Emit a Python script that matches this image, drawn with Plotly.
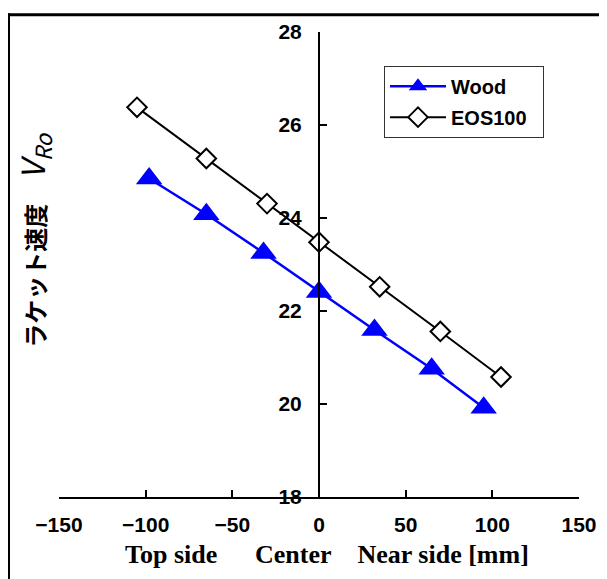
import plotly.graph_objects as go

# Data
wood_x = [-98, -65, -32, 0, 32, 65, 95]
wood_y = [24.85, 24.08, 23.25, 22.41, 21.59, 20.76, 19.92]
eos_x = [-105, -65, -30, 0, 35, 70, 105]
eos_y = [26.38, 25.28, 24.31, 23.48, 22.52, 21.56, 20.58]
x_ticks = [-150, -100, -50, 0, 50, 100, 150]
y_ticks = [18, 20, 22, 24, 26, 28]

# The page places the figure 8px in from the top-left corner of the window
OFF = 8
W, H = 607, 579
# plot area on screen: x 59..579, y 27..497
L = 59 - OFF
T = 27 - OFF
pw, ph = 520, 470
R = W - L - pw
B = H - T - ph

def px_x(p):
    return (p - OFF - L) / pw

def px_y(p):
    return (H - B - (p - OFF)) / ph

sans = "Liberation Sans, Arial, sans-serif"
serif = "Liberation Serif, Times New Roman, serif"
cjk = "Noto Sans CJK JP, sans-serif"

fig = go.Figure()
fig.add_trace(go.Scatter(
    x=wood_x, y=wood_y, name="<b>Wood</b>", mode="lines+markers",
    line=dict(color="#0000FF", width=2.5),
    marker=dict(symbol="triangle-up", size=23, color="#0000FF"),
    legendgroup="a",
))
fig.add_trace(go.Scatter(
    x=eos_x, y=eos_y, name="<b>EOS100</b>\u00a0\u00a0", mode="lines+markers",
    line=dict(color="#000000", width=2),
    marker=dict(symbol="diamond", size=15, color="#FFFFFF",
                line=dict(color="#000000", width=2)),
    legendgroup="b",
))

fig.update_layout(
    width=W, height=H,
    margin=dict(l=L, r=R, t=T, b=B, pad=0),
    paper_bgcolor="white", plot_bgcolor="white",
    showlegend=True,
    legend=dict(
        x=px_x(384), y=px_y(61), xanchor="left", yanchor="top",
        bordercolor="#333333", borderwidth=1, bgcolor="white",
        font=dict(family=sans, size=20, color="black"),
        tracegroupgap=2, itemwidth=56,
    ),
    xaxis=dict(
        range=[-150, 150], tickvals=x_ticks, showgrid=False, zeroline=False,
        showline=True, linecolor="black", linewidth=2,
        ticks="inside", ticklen=7, tickwidth=2, tickcolor="black",
        tickfont=dict(family=sans, size=21, color="black", weight="bold"),
        ticklabelstandoff=8,
    ),
    yaxis=dict(
        range=[18, 28], tickvals=y_ticks, showgrid=False, zeroline=False,
        anchor="free", position=0.5,
        showline=True, linecolor="black", linewidth=2,
        ticks="inside", ticklen=7, tickwidth=2, tickcolor="black",
        tickfont=dict(family=sans, size=21, color="black", weight="bold"),
        ticklabelstandoff=12,
    ),
)

# Axis titles
fig.add_annotation(
    xref="paper", yref="paper", x=px_x(33), y=px_y(238),
    text=("<b>ラケット速度</b>\u3000"
          "<span style='font-size:32px'><i>V</i><sub><i>Ro</i></sub></span>"),
    textangle=-90, showarrow=False, xanchor="center", yanchor="middle",
    font=dict(family=cjk, size=24, color="black"),
)
fig.add_annotation(
    xref="paper", yref="paper", x=px_x(327), y=px_y(555),
    text=("<b>Top side\u00a0\u00a0\u00a0\u00a0\u00a0\u2009Center"
          "\u00a0\u00a0\u00a0\u00a0Near side [mm]</b>"),
    showarrow=False, xanchor="center", yanchor="middle",
    font=dict(family=serif, size=26, color="black"),
)

# Chart-area frame (left and top edges visible)
fig.add_shape(type="line", xref="paper", yref="paper",
              x0=px_x(8.5), x1=px_x(8.5), y0=px_y(8), y1=px_y(600),
              line=dict(color="black", width=3))
fig.add_shape(type="line", xref="paper", yref="paper",
              x0=px_x(7), x1=px_x(640), y0=px_y(9.5), y1=px_y(9.5),
              line=dict(color="black", width=3))

fig.write_html("out.html")
